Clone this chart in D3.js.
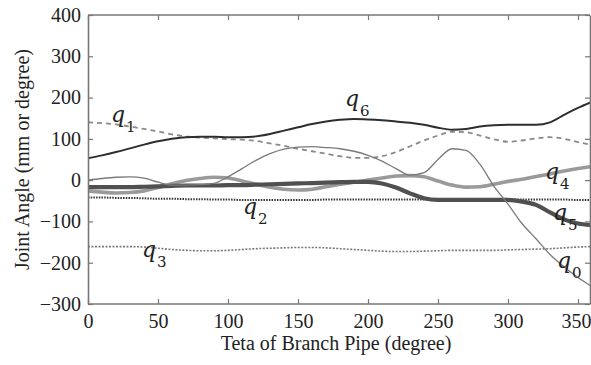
<!DOCTYPE html>
<html>
<head>
<meta charset="utf-8">
<script src="https://cdn.jsdelivr.net/npm/d3@7"></script>
<style>
  html, body { margin: 0; padding: 0; background: #fff; }
  svg { display: block; }
  .serif { font-family: "Liberation Serif", "Times New Roman", Times, serif; }
  .math { font-family: "DejaVu Serif", serif; }
</style>
</head>
<body>
<svg id="chart" width="591" height="365"></svg>
<script>
// Branch pipe angle (degrees) at which joint values are sampled
const theta = [0,10,20,30,40,50,60,70,80,90,100,110,120,130,140,150,160,170,180,
               190,200,210,220,230,240,250,260,270,280,290,300,310,320,330,340,350,360];

// Joint values (mm or degree)
const q0 = [0,4,7,8,5,-5,-12,-12,-11,-8,8,28,48,64,75,80,81,79,76,
            70,60,46,28,12,18,50,76,72,38,-15,-58,-105,-142,-180,-210,-236,-258];
const q1 = [140,138,135,130,124,118,111,106,103,101,99,98,95,89,83,76,70,64,58,
            54,54,58,68,82,96,108,117,116,108,99,93,96,101,104,100,92,85];
const q2 = [-42,-42,-43,-43,-44,-45,-45,-46,-46,-47,-47,-48,-48,-48,-48,-48,-48,-47,-47,
            -47,-47,-47,-47,-47,-47,-47,-47,-47,-47,-47,-47,-47,-47,-47,-47,-48,-48];
const q3 = [-161,-161,-161,-161,-162,-165,-168,-170,-171,-171,-170,-168,-166,-165,-164,-163,-163,-164,-166,
            -168,-170,-172,-173,-173,-172,-171,-170,-170,-170,-170,-169,-168,-167,-166,-164,-162,-161];
const q4 = [-26,-29,-31,-30,-26,-18,-9,-1,4,7,5,-2,-10,-17,-22,-24,-22,-16,-10,
            -5,0,5,10,11,8,-2,-12,-17,-16,-10,-3,2,9,15,22,28,33];
const q5 = [-17,-17,-17,-17,-16,-15,-14,-13,-13,-13,-12,-12,-11,-10,-9,-8,-7,-6,-5,
            -4,-4,-8,-18,-32,-44,-48,-48,-48,-48,-48,-48,-52,-60,-78,-95,-105,-109];
const q6 = [53,60,68,77,86,94,100,104,105,105,104,104,106,112,120,128,136,142,146,
            148,147,145,142,139,134,127,122,124,130,133,134,134,134,140,158,175,190];

const xTicks = [0,50,100,150,200,250,300,350];
const yTicks = [-300,-200,-100,0,100,200,300,400];

const series = [
  { name: "q3", values: q3, stroke: "#7a7a7a", width: 1.6, dash: "2,1.5" },
  { name: "q2", values: q2, stroke: "#333333", width: 2.0, dash: "1.5,1.2" },
  { name: "q1", values: q1, stroke: "#8a8a8a", width: 1.8, dash: "5,4" },
  { name: "q6", values: q6, stroke: "#2e2e2e", width: 2.0, dash: null },
  { name: "q4", values: q4, stroke: "#9a9a9a", width: 3.6, dash: null },
  { name: "q5", values: q5, stroke: "#505050", width: 4.2, dash: null },
  { name: "q0", values: q0, stroke: "#7a7a7a", width: 1.3, dash: null }
];

// Curve labels: q with a subscript index, placed beside each curve
const labels = [
  { sub: "1", x: 111, y: 122 },
  { sub: "6", x: 345, y: 106 },
  { sub: "2", x: 243, y: 214 },
  { sub: "3", x: 142, y: 257 },
  { sub: "4", x: 545, y: 179 },
  { sub: "5", x: 553, y: 220 },
  { sub: "0", x: 557, y: 268 }
];

const svg = d3.select("#chart");
// the 0–360° range runs slightly past the right edge; the frame sits at the last pixel column
const mLeft = 88, mRight = 592, frameRight = 590, mTop = 15, mBottom = 304;
const fontSize = 20;

const x = d3.scaleLinear().domain([0, 360]).range([mLeft, mRight]);
const y = d3.scaleLinear().domain([-300, 400]).range([mBottom, mTop]);

const axisColor = "#777";

svg.append("clipPath").attr("id", "clip")
  .append("rect").attr("x", mLeft).attr("y", mTop)
  .attr("width", frameRight - mLeft).attr("height", mBottom - mTop);

const line = d3.line()
  .x((d, i) => x(theta[i]))
  .y(d => y(d))
  .curve(d3.curveMonotoneX);

const lines = svg.append("g").attr("clip-path", "url(#clip)");
series.forEach(s => {
  lines.append("path")
    .datum(s.values)
    .attr("d", line)
    .attr("fill", "none")
    .attr("stroke", s.stroke)
    .attr("stroke-width", s.width)
    .attr("stroke-dasharray", s.dash)
    .attr("stroke-linejoin", "round");
});

// Axes with inward ticks on all four sides (boxed frame)
const fmt = d => d < 0 ? "\u2212" + Math.abs(d) : String(d);
const tickLen = 5;

const xAxisB = d3.axisBottom(x).tickValues(xTicks).tickSizeInner(-tickLen).tickSizeOuter(0).tickPadding(10).tickFormat(fmt);
const xAxisT = d3.axisTop(x).tickValues(xTicks).tickSizeInner(-tickLen).tickSizeOuter(0).tickFormat("");
const yAxisL = d3.axisLeft(y).tickValues(yTicks).tickSizeInner(-tickLen).tickSizeOuter(0).tickPadding(7).tickFormat(fmt);
const yAxisR = d3.axisRight(y).tickValues(yTicks).tickSizeInner(-tickLen).tickSizeOuter(0).tickFormat("");

function styleAxis(g) {
  g.attr("font-family", null).attr("font-size", null).attr("class", "serif");
  g.select(".domain").attr("stroke", axisColor).attr("stroke-width", 1.6);
  g.selectAll(".tick line").attr("stroke", axisColor).attr("stroke-width", 1.2);
  g.selectAll(".tick text").attr("fill", "#222").attr("font-size", fontSize);
}

const gB = svg.append("g").attr("transform", `translate(0,${mBottom})`).call(xAxisB).call(styleAxis);
const gT = svg.append("g").attr("transform", `translate(0,${mTop})`).call(xAxisT).call(styleAxis);
// bottom and top frame edges stop at the visible right edge
[gB, gT].forEach(g => g.select(".domain").attr("d", `M${mLeft},0H${frameRight}`));
// keep the last tick label inside the page
gB.selectAll(".tick text").filter(d => d === 350).attr("dx", -2);

svg.append("g").attr("transform", `translate(${mLeft},0)`).call(yAxisL).call(styleAxis);
svg.append("g").attr("transform", `translate(${frameRight},0)`).call(yAxisR).call(styleAxis);

// Axis titles
svg.append("text")
  .attr("class", "serif")
  .attr("x", 336)
  .attr("y", 350)
  .attr("text-anchor", "middle")
  .attr("fill", "#222")
  .attr("font-size", fontSize)
  .text("Teta of Branch Pipe (degree)");

svg.append("text")
  .attr("class", "serif")
  .attr("transform", `translate(29,${(mTop + mBottom) / 2}) rotate(-90)`)
  .attr("text-anchor", "middle")
  .attr("fill", "#222")
  .attr("font-size", fontSize)
  .text("Joint Angle (mm or degree)");

// Curve name labels
labels.forEach(l => {
  const t = svg.append("text")
    .attr("class", "math")
    .attr("x", l.x)
    .attr("y", l.y)
    .attr("fill", "#222");
  t.append("tspan").attr("font-style", "italic").attr("font-size", 22).text("q");
  t.append("tspan").attr("dx", 1).attr("dy", 10).attr("font-size", 15).text(l.sub);
});
</script>
</body>
</html>
